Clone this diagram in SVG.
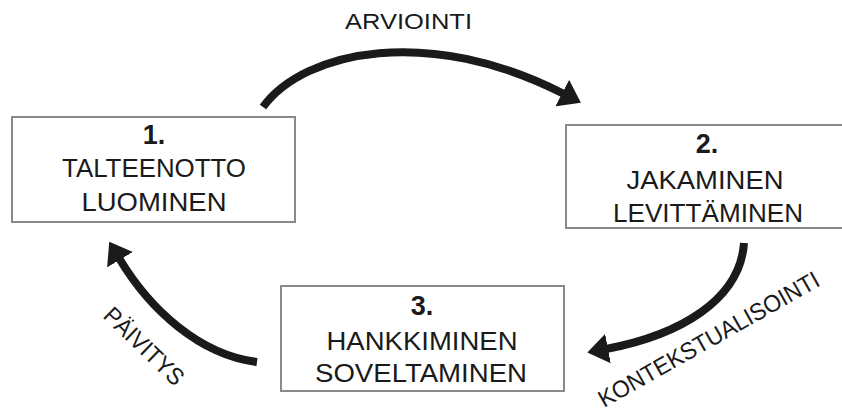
<svg xmlns="http://www.w3.org/2000/svg" width="842" height="414" viewBox="0 0 842 414">
  <style>
    .box { fill: #ffffff; stroke: #8a8a8a; stroke-width: 2; }
    .num { font-family: "Liberation Sans", Arial, sans-serif; font-weight: bold; font-size: 27px; fill: #1a1a1a; text-anchor: middle; }
    .lbl { font-family: "Liberation Sans", Arial, sans-serif; font-size: 25px; fill: #1a1a1a; text-anchor: middle; }
    .edge { font-family: "Liberation Sans", Arial, sans-serif; font-size: 24px; fill: #1a1a1a; }
    .arrow { fill: none; stroke: #1a1a1a; stroke-width: 8; marker-end: url(#head); }
  </style>
  <defs>
    <marker id="head" markerUnits="userSpaceOnUse" markerWidth="24" markerHeight="30" refX="2" refY="15" orient="auto" viewBox="0 0 24 30">
      <path d="M0,0 L21,15 L0,30 Z" fill="#1a1a1a"/>
    </marker>
  </defs>
  <rect width="842" height="414" fill="#ffffff"/>

  <g id="connectors">
    <path class="arrow" d="M263,107 C305,50 430,25 564,94"/>
    <path class="arrow" d="M744,243 C740,300 680,335 606,349"/>
    <path class="arrow" d="M257,362 C200,355 150,310 119,258"/>
    <text class="edge" x="345" y="29" textLength="127" lengthAdjust="spacingAndGlyphs" style="font-size:22px">ARVIOINTI</text>
    <text class="edge" transform="translate(604,408) rotate(-29.5)" textLength="250" lengthAdjust="spacingAndGlyphs">KONTEKSTUALISOINTI</text>
    <text class="edge" transform="translate(102,317) rotate(44)" textLength="101" lengthAdjust="spacingAndGlyphs">PÄIVITYS</text>
  </g>

  <g id="node1">
    <rect class="box" x="12" y="117" width="283" height="105"/>
    <text class="num" x="154" y="144">1.</text>
    <text class="lbl" x="154" y="177" textLength="184" lengthAdjust="spacingAndGlyphs">TALTEENOTTO</text>
    <text class="lbl" x="154" y="211" textLength="145" lengthAdjust="spacingAndGlyphs">LUOMINEN</text>
  </g>

  <g id="node2">
    <rect class="box" x="566" y="125" width="280" height="103"/>
    <text class="num" x="707" y="153">2.</text>
    <text class="lbl" x="705" y="189" textLength="157" lengthAdjust="spacingAndGlyphs">JAKAMINEN</text>
    <text class="lbl" x="708" y="222" textLength="190" lengthAdjust="spacingAndGlyphs">LEVITTÄMINEN</text>
  </g>

  <g id="node3">
    <rect class="box" x="281" y="286" width="283" height="105"/>
    <text class="num" x="422" y="315">3.</text>
    <text class="lbl" x="422" y="350" textLength="191" lengthAdjust="spacingAndGlyphs">HANKKIMINEN</text>
    <text class="lbl" x="421" y="382" textLength="212" lengthAdjust="spacingAndGlyphs">SOVELTAMINEN</text>
  </g>
</svg>
